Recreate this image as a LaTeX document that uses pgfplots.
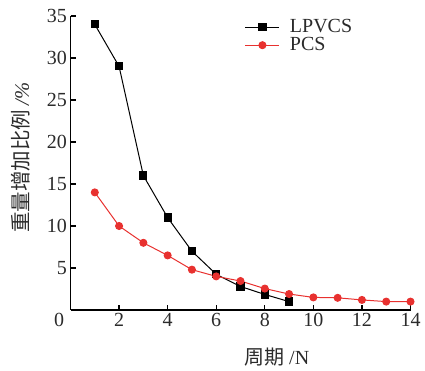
\documentclass[border=0pt]{standalone}
\usepackage{pgfplots}
\pgfplotsset{compat=1.18}
\usepackage{fontspec}
\setmainfont{Liberation Serif}
\newfontfamily\cjk{Noto Sans CJK SC}
\definecolor{myred}{HTML}{E8312F}
\definecolor{txt}{HTML}{2B2B2B}
\begin{document}
\begin{tikzpicture}[x=1pt,y=1pt]
\useasboundingbox (0,0) rectangle (425,371);
\begin{axis}[
  at={(70.5pt,61pt)}, anchor=south west,
  scale only axis, width=340pt, height=294pt,
  xmin=0, xmax=14, ymin=0, ymax=35,
  axis x line=bottom, axis y line=left,
  axis line style={line width=1.3pt, -},
  xtick={2,4,...,14}, ytick={5,10,...,35},
  tick align=inside, major tick length=5pt,
  tick style={line width=1.2pt, black},
  tick label style={font=\fontsize{20}{22}\selectfont, text=txt},
  /pgf/number format/assume math mode=true,
  clip=false,
  legend style={draw=none, fill=none, at={(axis cs:7.05,35.0)}, anchor=north west,
    font=\fontsize{20}{22}\selectfont, text=txt, row sep=0pt,
    nodes={text height=11pt, text depth=1pt, inner ysep=3pt},
    /tikz/every odd column/.append style={column sep=8pt}},
  legend cell align=left,
  legend image code/.code={\draw[#1] (0pt,0pt) -- (34pt,0pt); \draw[#1, only marks] plot coordinates {(17pt,0pt)};},
]
\addplot[black, line width=1pt, mark=square*, mark size=3.6pt] coordinates {
(1,34) (2,29) (3,16) (4,11) (5,7) (6,4.25) (7,2.8) (8,1.85) (9,1.0)};
\addlegendentry{LPVCS}
\addplot[myred, line width=1pt, mark=*, mark size=3.5pt] coordinates {
(1,14) (2,10) (3,8) (4,6.5) (5,4.8) (6,4.0) (7,3.45) (8,2.55) (9,1.9) (10,1.5) (11,1.45) (12,1.2) (13,1.0) (14,1.0)};
\addlegendentry{PCS}
\node[anchor=north, font=\fontsize{20}{22}\selectfont, text=txt, inner sep=0.3333em] at (axis cs:-0.47,0) {0};
\end{axis}
\node[rotate=90, text=txt] at (21,213.5) {\cjk\fontsize{20.5}{22}\selectfont 重量增加比例 \rmfamily\itshape /\%};
\node[text=txt] at (277,14) {\cjk\fontsize{20}{22}\selectfont 周期 \rmfamily/N};
\end{tikzpicture}
\end{document}
